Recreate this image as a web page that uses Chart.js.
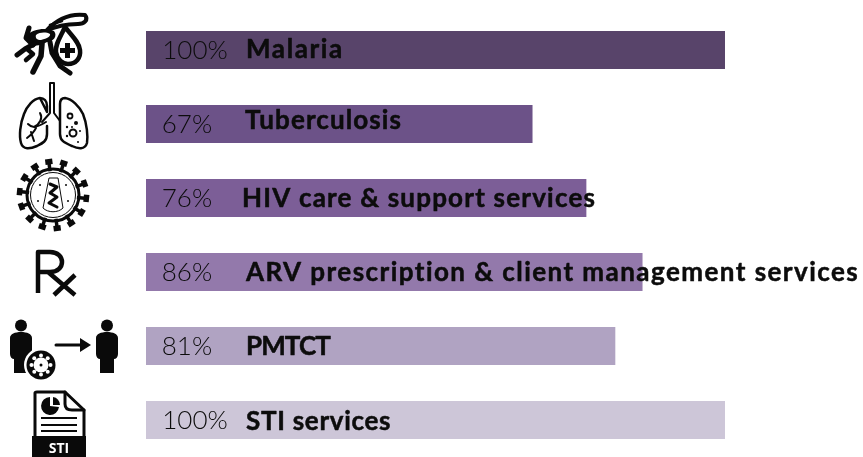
<!DOCTYPE html>
<html lang="en">
<head>
  <meta charset="UTF-8">
  <title>Service availability</title>
  <script src="https://cdn.jsdelivr.net/npm/chart.js"></script>
  <style>
    html, body { margin: 0; padding: 0; background: #ffffff; overflow: hidden; }
    canvas { display: block; }
  </style>
</head>
<body>
  <canvas id="services" width="863" height="457"></canvas>

  <script>
    const categories = ['Malaria', 'Tuberculosis', 'HIV care & support services', 'ARV prescription & client management services', 'PMTCT', 'STI services'];
    // printed labels and drawn lengths differ slightly in the original
    const percentLabels = ['100%', '67%', '76%', '86%', '81%', '100%'];
    const barLengths = [100, 66.7, 76, 85.7, 81, 100];
    const barColors = ['#58446a', '#6c5288', '#7c5e97', '#9379ab', '#b0a3c2', '#cdc6d8'];
    // small nudges because the labels are not quite lined up in the original
    const nameX = [246, 245, 242, 246, 246, 246];
    const nameNudge = [0, -3, 1, 1, 1, 2];
    const nameSpacing = [1.6, 1.1, 1.2, 1.45, -0.9, 0.7];

    const INK = '#0a0a0a';

    function line(c, pts, w) {
      c.lineWidth = w;
      c.beginPath();
      pts.forEach((p, i) => i ? c.lineTo(p[0], p[1]) : c.moveTo(p[0], p[1]));
      c.stroke();
    }
    function path(c, d, w) {
      c.lineWidth = w;
      c.stroke(new Path2D(d));
    }
    function fill(c, d) { c.fill(new Path2D(d)); }
    function dot(c, x, y, r) {
      c.beginPath();
      c.arc(x, y, r, 0, Math.PI * 2);
      c.fill();
    }
    function ring(c, x, y, r, w) {
      c.lineWidth = w;
      c.beginPath();
      c.arc(x, y, r, 0, Math.PI * 2);
      c.stroke();
    }

    function mosquito(c) {
      path(c, 'M46 31 C56 20 68 13 85 15 C89 20 84 24 78 24 C68 24 58 25 46 31 Z', 4);
      path(c, 'M50 25 L62 21', 2.5);
      fill(c, 'M26 36 C32 29 46 27 54 31 C58 36 53 42 47 42 C42 45 37 46 33 45 C28 44 25 40 26 36 Z');
      c.fillStyle = '#ffffff';
      fill(c, 'M36 35 C40 32 46 32 50 34 C51 37 45 39 41 40 C37 40 35 38 36 35 Z');
      c.fillStyle = INK;
      path(c, 'M65 27 C60 38 55 44 56 52 C57 60 63 64 68 64 C76 64 81 58 80 50 C79 42 72 36 65 27 Z', 4.5);
      fill(c, 'M65 43 H70 V48 H75 V53 H70 V58 H65 V53 H60 V48 H65 Z');
      line(c, [[29, 28], [26, 38], [33, 45]], 5);
      line(c, [[34, 44], [25, 49], [17, 55]], 5);
      line(c, [[27, 49], [33, 54], [26, 60]], 4.5);
      line(c, [[42, 44], [41, 56], [33, 72]], 5.5);
      line(c, [[50, 42], [52, 53], [60, 66], [70, 73]], 5);
    }

    function lungs(c) {
      path(c, 'M50 83 V113 L42 122 M54 83 V113 L60 121 M50 83 H54', 2);
      path(c, 'M40 98 C33 99 27 106 24 114 C20 124 19 136 21 143 C23 150 30 149 37 146 C43 143 47 141 47 134 V126 M47 112 V106 C47 101 44 98 40 98 Z', 2.5);
      path(c, 'M65 98 C72 99 79 106 83 114 C87 124 88 136 87 143 C85 150 78 149 72 146 C65 143 60 141 60 134 V104 C60 100 62 98 65 98 Z', 2.5);
      path(c, 'M46 122 C41 125 37 127 34 127 C32 127 30 126 28 124 M40 113 C43 118 40 124 34 127 M36 128 C34 132 31 135 27 138 M31 132 L34 141', 2);
      ring(c, 70, 116, 2.5, 1.8);
      ring(c, 73, 133, 3.5, 2);
      dot(c, 76, 123, 2);
      dot(c, 67, 127, 1.2);
      dot(c, 72, 127, 1);
      dot(c, 67, 136, 1.2);
      dot(c, 80, 131, 1);
      dot(c, 78, 142, 1);
    }

    function virus(c) {
      const cx = 53, cy = 195;
      c.lineCap = 'butt';
      for (let i = 0; i < 14; i++) {
        const a = i / 14 * Math.PI * 2 + 0.1;
        const x = Math.cos(a), y = Math.sin(a);
        line(c, [[cx + x * 24, cy + y * 24], [cx + x * 32, cy + y * 32]], 3.5);
        line(c, [[cx + x * 33.5 - y * 3.6, cy + y * 33.5 + x * 3.6], [cx + x * 33.5 + y * 3.6, cy + y * 33.5 - x * 3.6]], 5.5);
      }
      ring(c, cx, cy, 26, 3);
      ring(c, cx, cy, 22.5, 1);
      path(c, 'M49 178 H58 L63 208 C58 213 48 213 43 208 Z', 1);
      c.lineCap = 'round';
      line(c, [[50, 184], [57, 187], [50, 193], [57, 197], [49, 203], [57, 207]], 3);
      dot(c, 38, 201, 1);
      dot(c, 68, 201, 1);
      dot(c, 40, 185, 1);
      dot(c, 66, 185, 1);
    }

    function rx(c) {
      c.lineCap = 'butt';
      path(c, 'M38 293 V252 H50 C66 252 66 272 50 272 H38 M48 272 L75 295', 4.5);
      line(c, [[75, 275], [54, 295]], 4.5);
    }

    function person(c, x) {
      dot(c, x, 325.5, 6);
      fill(c, `M${x - 11} 338 C${x - 11} 334 ${x - 6} 332 ${x} 332 C${x + 6} 332 ${x + 11} 334 ${x + 11} 338 V354 C${x + 11} 357 ${x + 9} 359 ${x + 7} 359 V373 H${x - 7} V359 C${x - 9} 359 ${x - 11} 357 ${x - 11} 354 Z`);
    }

    function transmission(c) {
      person(c, 21);
      person(c, 107);
      c.fillStyle = '#ffffff';
      dot(c, 41, 365, 17);
      c.fillStyle = INK;
      dot(c, 41, 365, 14.5);
      c.fillStyle = '#ffffff';
      dot(c, 41, 365, 7.5);
      for (let i = 0; i < 8; i++) {
        const a = i / 8 * Math.PI * 2;
        dot(c, 41 + Math.cos(a) * 9.5, 365 + Math.sin(a) * 9.5, 2);
      }
      c.fillStyle = INK;
      dot(c, 41, 365, 1.5);
      line(c, [[56, 345], [82, 345]], 3);
      fill(c, 'M80 338 L91 345 L80 352 Z');
    }

    function document_(c) {
      path(c, 'M35 437 V393 C35 392 36 392 37 392 H65 L84 410 V437', 3);
      path(c, 'M65 392 V404 C65 409 69 410 72 410 H84', 3);
      c.fillRect(32, 436, 54, 21);
      fill(c, 'M50 397 A9 9 0 1 0 59 407 L50 406 Z');
      fill(c, 'M53 397 A8 8 0 0 1 60 405 L53 405 Z');
      c.fillRect(41, 417, 36, 2);
      c.fillRect(41, 424, 36, 2);
      c.fillRect(41, 430, 36, 2);
      c.fillStyle = '#ffffff';
      c.font = 'bold 14px "Open Sans", sans-serif';
      c.textAlign = 'center';
      c.textBaseline = 'middle';
      c.fillText('STI', 59, 449);
    }

    const iconPlugin = {
      id: 'icons',
      afterDraw(chart) {
        const c = chart.ctx;
        c.save();
        c.strokeStyle = INK;
        c.fillStyle = INK;
        c.lineCap = 'round';
        c.lineJoin = 'round';
        [mosquito, lungs, virus, rx, transmission, document_].forEach(icon => {
          c.save();
          icon(c);
          c.restore();
        });
        c.restore();
      }
    };

    const labelPlugin = {
      id: 'barLabels',
      afterDatasetsDraw(chart) {
        const c = chart.ctx;
        const y = chart.scales.y;
        c.save();
        c.fillStyle = '#0c0c0c';
        c.strokeStyle = '#0c0c0c';
        c.lineWidth = 0.5;
        c.lineJoin = 'round';
        c.textBaseline = 'middle';
        categories.forEach((name, i) => {
          const py = y.getPixelForValue(i);
          c.textAlign = 'center';
          c.font = '300 26px Lato, sans-serif';
          c.letterSpacing = '0px';
          c.fillText(percentLabels[i], percentLabels[i] === '100%' ? 195 : 187, py + 1);
          c.textAlign = 'left';
          c.font = 'bold 26px Lato, sans-serif';
          c.letterSpacing = nameSpacing[i] + 'px';
          c.fillText(name, nameX[i], py + nameNudge[i]);
          c.strokeText(name, nameX[i], py + nameNudge[i]);
        });
        c.restore();
      }
    };

    new Chart(document.getElementById('services').getContext('2d'), {
      type: 'bar',
      data: {
        labels: categories,
        datasets: [{
          data: barLengths,
          backgroundColor: barColors,
          barThickness: 37.5,
          borderWidth: 0
        }]
      },
      options: {
        indexAxis: 'y',
        responsive: false,
        animation: false,
        layout: { padding: { left: 146, right: 138, top: 13, bottom: 0 } },
        plugins: { legend: { display: false }, tooltip: { enabled: false } },
        scales: {
          x: { display: false, min: 0, max: 100 },
          y: { display: false }
        }
      },
      plugins: [labelPlugin, iconPlugin]
    });
  </script>
</body>
</html>
